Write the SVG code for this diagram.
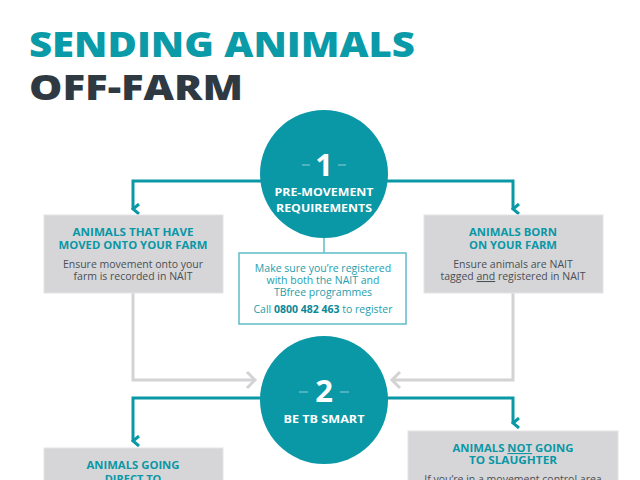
<svg xmlns="http://www.w3.org/2000/svg" width="640" height="480" viewBox="0 0 640 480">
<defs>
<style>
.teal{fill:#0a97a6}
.t{font-family:"Open Sans","Liberation Sans",sans-serif}
.h{font-family:"Open Sans","Liberation Sans",sans-serif;font-weight:700;font-size:11px;fill:#0a97a6;text-anchor:middle}
.b{font-family:"Open Sans","Liberation Sans",sans-serif;font-size:10.5px;fill:#4a4f55;text-anchor:middle}
.m{font-family:"Open Sans","Liberation Sans",sans-serif;font-size:10.5px;fill:#1e9eac;text-anchor:middle}
.w{font-family:"Open Sans","Liberation Sans",sans-serif;font-weight:700;fill:#ffffff;text-anchor:middle}
.box{fill:#d6d6d8;stroke:#e4e4e6;stroke-width:1}
.tl{fill:none;stroke:#0a97a6;stroke-width:3;stroke-linejoin:miter}
.gl{fill:none;stroke:#d3d3d5;stroke-width:3}
.dash{stroke:#7cc6cf;stroke-width:1.2}
</style>
<marker id="at" viewBox="0 0 12 12" refX="6" refY="10" markerWidth="12" markerHeight="12" markerUnits="userSpaceOnUse" orient="auto-start-reverse">
<path d="M1,4 L6,10 L11,4" fill="none" stroke="#0a97a6" stroke-width="3"/>
</marker>
</defs>
<rect width="640" height="480" fill="#ffffff"/>
<g id="title">
<text x="29" y="57" class="t" font-weight="800" font-size="35" fill="#0a9aa8" textLength="386" lengthAdjust="spacingAndGlyphs">SENDING ANIMALS</text>
<text x="29" y="100" class="t" font-weight="800" font-size="35" fill="#2f3942" textLength="214" lengthAdjust="spacingAndGlyphs">OFF-FARM</text>
</g>
<g id="connectors">
<path class="tl" d="M262,181 H133 V209" marker-end="url(#at)"/>
<path class="tl" d="M386,181 H513 V209" marker-end="url(#at)"/>
<path d="M324,238 V253" fill="none" stroke="#5fbcc6" stroke-width="1.5"/>
<path class="gl" d="M133,293 V380 H254"/>
<path d="M247,372 L255,380 L247,388" fill="none" stroke="#d3d3d5" stroke-width="3"/>
<path class="gl" d="M513,293 V380 H393"/>
<path d="M400,372 L392,380 L400,388" fill="none" stroke="#d3d3d5" stroke-width="3"/>
<path class="tl" d="M262,398 H133 V441" marker-end="url(#at)"/>
<path class="tl" d="M386,398 H513 V423" marker-end="url(#at)"/>
</g>
<g id="step1">
<circle cx="324" cy="174" r="64" class="teal"/>
<line x1="302" y1="165" x2="310" y2="165" class="dash"/>
<line x1="338" y1="165" x2="346" y2="165" class="dash"/>
<text x="324" y="176" class="w" font-size="31">1</text>
<text x="324" y="196" class="w" font-size="11" textLength="99" lengthAdjust="spacingAndGlyphs">PRE-MOVEMENT</text>
<text x="324" y="212" class="w" font-size="11" textLength="96" lengthAdjust="spacingAndGlyphs">REQUIREMENTS</text>
</g>
<g id="box-moved">
<rect x="44" y="215" width="179" height="78" class="box"/>
<text x="133" y="236" class="h" textLength="121" lengthAdjust="spacingAndGlyphs">ANIMALS THAT HAVE</text>
<text x="133" y="249" class="h" textLength="149" lengthAdjust="spacingAndGlyphs">MOVED ONTO YOUR FARM</text>
<text x="133" y="268" class="b">Ensure movement onto your</text>
<text x="133" y="280" class="b">farm is recorded in NAIT</text>
</g>
<g id="box-born">
<rect x="424" y="215" width="179" height="78" class="box"/>
<text x="513" y="236" class="h" textLength="88" lengthAdjust="spacingAndGlyphs">ANIMALS BORN</text>
<text x="513" y="249" class="h" textLength="88" lengthAdjust="spacingAndGlyphs">ON YOUR FARM</text>
<text x="513" y="268" class="b">Ensure animals are NAIT</text>
<text x="513" y="280" class="b">tagged <tspan text-decoration="underline">and</tspan> registered in NAIT</text>
</g>
<g id="box-register">
<rect x="239" y="253" width="167" height="71" fill="#ffffff" stroke="#5fbcc6" stroke-width="1.5"/>
<text x="323" y="272" class="m">Make sure you’re registered</text>
<text x="323" y="284" class="m">with both the NAIT and</text>
<text x="323" y="296" class="m">TBfree programmes</text>
<text x="323" y="313" class="m">Call <tspan font-weight="700" fill="#0a8797">0800 482 463</tspan> to register</text>
</g>
<g id="step2">
<circle cx="324" cy="400" r="64" class="teal"/>
<line x1="299" y1="392" x2="308" y2="392" class="dash"/>
<line x1="340" y1="392" x2="349" y2="392" class="dash"/>
<text x="324" y="402" class="w" font-size="31">2</text>
<text x="324" y="423" class="w" font-size="11" textLength="81" lengthAdjust="spacingAndGlyphs">BE TB SMART</text>
</g>
<g id="box-slaughter">
<rect x="44" y="448" width="179" height="40" class="box"/>
<text x="133" y="469" class="h" textLength="93" lengthAdjust="spacingAndGlyphs">ANIMALS GOING</text>
<text x="133" y="483" class="h">DIRECT TO</text>
</g>
<g id="box-not-slaughter">
<rect x="408" y="431" width="210" height="60" class="box"/>
<text x="513" y="452" class="h" textLength="121" lengthAdjust="spacingAndGlyphs">ANIMALS <tspan text-decoration="underline">NOT</tspan> GOING</text>
<text x="513" y="464" class="h" textLength="88" lengthAdjust="spacingAndGlyphs">TO SLAUGHTER</text>
<text x="513" y="483" class="b">If you’re in a movement control area</text>
</g>
</svg>
